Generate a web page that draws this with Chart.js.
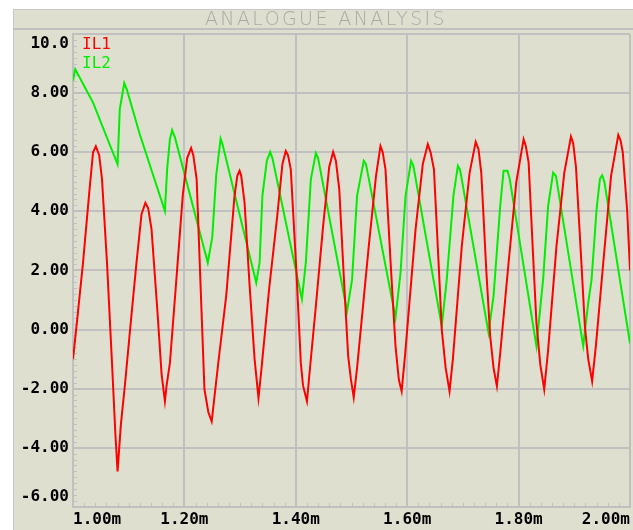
<!DOCTYPE html>
<html>
<head>
<meta charset="utf-8">
<script src="https://cdn.jsdelivr.net/npm/chart.js@4"></script>
<style>
  html, body { margin: 0; padding: 0; background: #fff; }
  #wrap { width: 633px; height: 530px; }
</style>
</head>
<body>
<div id="wrap"><canvas id="graph" width="633" height="530"></canvas></div>
<script>
const chartTitle = 'ANALOGUE ANALYSIS';
const seriesNames = ['IL1', 'IL2'];
const xTickLabels = ['1.00m', '1.20m', '1.40m', '1.60m', '1.80m', '2.00m'];
const yTickLabels = ['-6.00', '-4.00', '-2.00', '0.00', '2.00', '4.00', '6.00', '8.00', '10.0'];

// IL1 (red), time in ms
const il1Time = [
  1.000, 1.007, 1.018, 1.029, 1.036, 1.041, 1.047, 1.052, 1.061, 1.070, 1.076, 1.080, 1.086, 1.093,
  1.104, 1.114, 1.123, 1.130, 1.135, 1.141, 1.152, 1.159, 1.165, 1.168, 1.174, 1.186, 1.197, 1.205,
  1.212, 1.216, 1.222, 1.229, 1.236, 1.243, 1.249, 1.261, 1.275, 1.290, 1.295, 1.299, 1.302, 1.308,
  1.317, 1.326, 1.333, 1.338, 1.352, 1.367, 1.376, 1.382, 1.386, 1.391, 1.401, 1.409, 1.413, 1.420,
  1.426, 1.436, 1.449, 1.460, 1.467, 1.472, 1.478, 1.487, 1.494, 1.499, 1.504, 1.510, 1.531, 1.544,
  1.552, 1.556, 1.561, 1.571, 1.579, 1.585, 1.590, 1.596, 1.615, 1.628, 1.637, 1.642, 1.648, 1.657,
  1.662, 1.669, 1.676, 1.682, 1.698, 1.712, 1.723, 1.728, 1.733, 1.742, 1.749, 1.755, 1.761, 1.767,
  1.782, 1.796, 1.809, 1.813, 1.818, 1.826, 1.832, 1.839, 1.846, 1.853, 1.868, 1.882, 1.894, 1.898,
  1.903, 1.912, 1.919, 1.925, 1.932, 1.939, 1.952, 1.966, 1.979, 1.983, 1.987, 1.995, 2.000
];
const il1Values = [
  -1.00, 0.24, 2.26, 4.60, 6.00, 6.20, 5.90, 5.10, 2.27, -1.13, -3.50, -4.80, -3.20, -1.92,
  0.30, 2.26, 3.90, 4.29, 4.10, 3.39, 0.50, -1.50, -2.43, -1.90, -1.13, 1.80, 4.52, 5.80,
  6.14, 5.90, 5.08, 1.50, -2.03, -2.80, -3.11, -1.10, 1.13, 4.52, 5.20, 5.37, 5.20, 4.29,
  1.50, -1.00, -2.32, -1.40, 1.36, 3.90, 5.60, 6.04, 5.90, 5.42, 2.00, -1.13, -1.90, -2.43,
  -1.20, 0.79, 3.50, 5.50, 6.01, 5.70, 4.75, 1.50, -0.90, -1.70, -2.30, -1.30, 2.82, 5.20,
  6.21, 6.00, 5.42, 2.00, -0.56, -1.70, -2.09, -0.90, 3.39, 5.60, 6.27, 6.00, 5.42, 2.00,
  0.00, -1.30, -2.09, -1.00, 2.82, 5.30, 6.35, 6.10, 5.30, 2.00, -0.23, -1.30, -1.92, -0.80,
  2.26, 5.00, 6.44, 6.20, 5.65, 2.50, 0.23, -1.20, -2.03, -0.70, 2.82, 5.30, 6.53, 6.30,
  5.50, 2.50, 0.11, -1.00, -1.75, -0.50, 2.26, 5.20, 6.58, 6.40, 6.00, 4.00, 2.00
];

// IL2 (green), time in ms
const il2Time = [
  1.000, 1.004, 1.036, 1.080, 1.084, 1.092, 1.097, 1.120, 1.165, 1.169, 1.174, 1.178, 1.183,
  1.242, 1.250, 1.257, 1.265, 1.268, 1.329, 1.335, 1.340, 1.348, 1.354, 1.358, 1.411, 1.418,
  1.427, 1.436, 1.440, 1.492, 1.501, 1.510, 1.522, 1.526, 1.579, 1.588, 1.597, 1.607, 1.611,
  1.662, 1.671, 1.683, 1.691, 1.695, 1.746, 1.755, 1.767, 1.773, 1.780, 1.784, 1.832, 1.844,
  1.853, 1.862, 1.867, 1.916, 1.925, 1.931, 1.940, 1.946, 1.950, 1.954, 2.000
];
const il2Values = [
  8.42, 8.81, 7.68, 5.59, 7.46, 8.34, 8.10, 6.60, 4.01, 5.42, 6.44, 6.75, 6.50,
  2.26, 3.12, 5.20, 6.46, 6.30, 1.58, 2.26, 4.52, 5.71, 6.01, 5.80, 1.02, 2.26,
  5.08, 5.97, 5.80, 0.62, 1.69, 4.52, 5.71, 5.60, 0.40, 1.92, 4.52, 5.71, 5.55,
  0.11, 1.69, 4.52, 5.54, 5.40, -0.11, 1.13, 4.18, 5.37, 5.37, 5.10, -0.56, 1.69,
  4.18, 5.31, 5.20, -0.56, 0.90, 1.69, 4.07, 5.10, 5.22, 5.00, -0.47
];

const seriesColors = ['#ff0000', '#00ee00'];
const panelBg = '#dfdfd0';
const gridGrey = '#c0c0c0';
const tickFont = { family: '"DejaVu Sans Mono", monospace', size: 16, weight: 'bold' };

// panel, title bar, minor ticks and the in-plot trace labels
const frame = {
  id: 'frame',
  beforeDraw(chart) {
    const c = chart.ctx;
    c.save();
    c.fillStyle = '#ffffff';
    c.fillRect(0, 0, chart.width, chart.height);
    c.fillStyle = panelBg;
    c.fillRect(13, 9, chart.width - 13, chart.height - 9);
    c.strokeStyle = '#c8c8c8';
    c.lineWidth = 1;
    c.beginPath();
    c.moveTo(13.5, chart.height);
    c.lineTo(13.5, 9.5);
    c.lineTo(chart.width, 9.5);
    c.stroke();
    c.lineWidth = 2;
    c.strokeStyle = gridGrey;
    c.beginPath();
    c.moveTo(13, 29);
    c.lineTo(chart.width, 29);
    c.stroke();
    c.fillStyle = '#a9a9a9';
    c.font = '200 19px "DejaVu Sans", sans-serif';
    c.letterSpacing = '2.4px';
    c.textAlign = 'center';
    c.textBaseline = 'middle';
    c.fillText(chartTitle, 326, 20);
    c.restore();
  },
  beforeDatasetsDraw(chart) {
    const c = chart.ctx;
    const x = chart.scales.x, y = chart.scales.y;
    const area = chart.chartArea;
    c.save();
    c.strokeStyle = gridGrey;
    c.lineWidth = 1;
    c.beginPath();
    for (let i = 1; i < 80; i++) {
      if (i % 10 === 0) continue;
      const py = Math.round(y.getPixelForValue(-6 + i * 0.2)) + 0.5;
      c.moveTo(area.left, py);
      c.lineTo(area.left + 4, py);
    }
    for (let i = 1; i < 50; i++) {
      if (i % 10 === 0) continue;
      const px = Math.round(x.getPixelForValue(1 + i * 0.02)) + 0.5;
      c.moveTo(px, area.bottom);
      c.lineTo(px, area.bottom - 4);
    }
    c.stroke();
    c.restore();
  },
  afterDatasetsDraw(chart) {
    const c = chart.ctx;
    const area = chart.chartArea;
    c.save();
    c.font = '16px "DejaVu Sans Mono", monospace';
    c.textAlign = 'left';
    c.textBaseline = 'middle';
    chart.data.datasets.forEach((ds, i) => {
      c.fillStyle = ds.borderColor;
      c.fillText(ds.label, area.left + 9, area.top + 11 + i * 18.5);
    });
    c.restore();
  }
};

const toPoints = (ts, vs) => ts.map((t, i) => ({ x: t, y: vs[i] }));

new Chart(document.getElementById('graph'), {
  type: 'line',
  data: {
    datasets: [
      { label: seriesNames[0], data: toPoints(il1Time, il1Values), borderColor: seriesColors[0] },
      { label: seriesNames[1], data: toPoints(il2Time, il2Values), borderColor: seriesColors[1] }
    ]
  },
  options: {
    responsive: false,
    animation: false,
    layout: { padding: { left: 13, top: 34, right: 1, bottom: 0 } },
    elements: {
      line: { borderWidth: 2, tension: 0 },
      point: { radius: 0 }
    },
    plugins: {
      legend: { display: false },
      tooltip: { enabled: false }
    },
    scales: {
      x: {
        type: 'linear',
        min: 1,
        max: 2,
        ticks: {
          stepSize: 0.2,
          align: 'inner',
          padding: 3,
          maxRotation: 0,
          color: '#000',
          font: tickFont,
          callback: (v, i) => xTickLabels[i]
        },
        grid: { color: gridGrey, lineWidth: 2, drawTicks: false },
        border: { color: gridGrey, width: 2 },
        afterFit(scale) { scale.height = 23; }
      },
      y: {
        min: -6,
        max: 10,
        ticks: {
          stepSize: 2,
          padding: 4,
          color: '#000',
          font: tickFont,
          // first and last labels sit inside the plot edge
          callback: (v, i, all) => {
            const t = yTickLabels[i];
            if (i === 0) return [t, ''];
            if (i === all.length - 1) return ['', t];
            return t;
          }
        },
        grid: { color: gridGrey, lineWidth: 2, drawTicks: false },
        border: { color: gridGrey, width: 2 },
        afterFit(scale) { scale.width = 60; }
      }
    }
  },
  plugins: [frame]
});
</script>
</body>
</html>
